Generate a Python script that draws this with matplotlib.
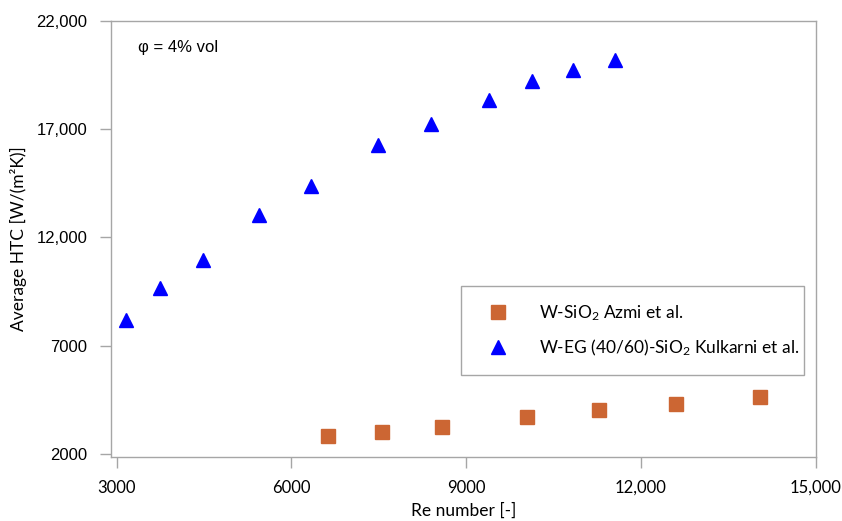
import numpy as np
import matplotlib
matplotlib.use('Agg')
import matplotlib.pyplot as plt
from matplotlib.ticker import FixedLocator, FuncFormatter

plt.rcParams['mathtext.fontset'] = 'custom'
plt.rcParams['mathtext.rm'] = 'Lato'
plt.rcParams['mathtext.it'] = 'Lato'

# data
re_azmi = [6626, 7553, 8585, 10042, 11277, 12593, 14049]
htc_azmi = [2807, 3037, 3268, 3697, 4007, 4298, 4644]

re_kulkarni = [3168, 3747, 4488, 5443, 6339, 7488, 8397, 9386, 10123, 10836, 11551]
htc_kulkarni = [8184, 9661, 10931, 13031, 14370, 16249, 17232, 18330, 19203, 19715, 20200]

x_ticks = [3000, 6000, 9000, 12000, 15000]
y_ticks = [2000, 7000, 12000, 17000, 22000]

grey = '#A6A6A6'

fig = plt.figure(figsize=(8.42, 5.21), dpi=100)
ax = fig.add_axes([0.1318, 0.1219, 0.8370, 0.8384])

ax.plot(re_azmi, htc_azmi, linestyle='none', marker='s', ms=9.4,
        color='#CC6633', mec='#CC6633', label=r'W-SiO$_2$ Azmi et al.')
ax.plot(re_kulkarni, htc_kulkarni, linestyle='none', marker='^', ms=10.5,
        color='#0000FF', mec='#0000FF', label=r'W-EG (40/60)-SiO$_2$ Kulkarni et al.')

ax.set_xlim(2902, 15000)
ax.set_ylim(1838, 22000)


def fmt(v, pos):
    # excel style: no comma below 10,000
    if v < 10000:
        return '%d' % v
    return '{:,.0f}'.format(v)


ax.xaxis.set_major_locator(FixedLocator(x_ticks))
ax.yaxis.set_major_locator(FixedLocator(y_ticks))
ax.xaxis.set_major_formatter(FuncFormatter(fmt))
ax.yaxis.set_major_formatter(FuncFormatter(fmt))

for s in ax.spines.values():
    s.set_color(grey)
    s.set_linewidth(1.0)

ax.tick_params(axis='both', direction='out', length=8, width=1.0, color=grey)
ax.tick_params(axis='y', pad=9)
ax.tick_params(axis='x', pad=8)
for lab in ax.get_yticklabels():
    lab.set_fontfamily('Liberation Sans')
    lab.set_fontsize(12)
for lab in ax.get_xticklabels():
    lab.set_fontfamily('Lato')
    lab.set_fontsize(12)

ax.set_xlabel('Re number [-]', fontfamily='Lato', fontsize=12.5, labelpad=5)
ax.set_ylabel('Average HTC [W/(m\u00b2K)]', fontfamily='Lato', fontsize=12.5, labelpad=7)

ax.text(137.5 / 842, 1 - 47.7 / 521, '\u03c6 = 4% vol', transform=fig.transFigure,
        fontfamily='Liberation Sans', fontsize=12, va='center', ha='left')

leg = ax.legend(loc='upper left', bbox_to_anchor=(460.7 / 842, 1 - 368 / 521, (804 - 460.7) / 842, (368 - 286) / 521),
                bbox_transform=fig.transFigure, mode='expand', fancybox=False,
                edgecolor=grey, framealpha=1, prop={'family': 'Lato', 'size': 12.5},
                borderpad=1.0, handletextpad=1.2, labelspacing=0.84, borderaxespad=0,
                handlelength=2.3)
leg.get_frame().set_linewidth(1.0)

fig.savefig('out.png', dpi=100)
